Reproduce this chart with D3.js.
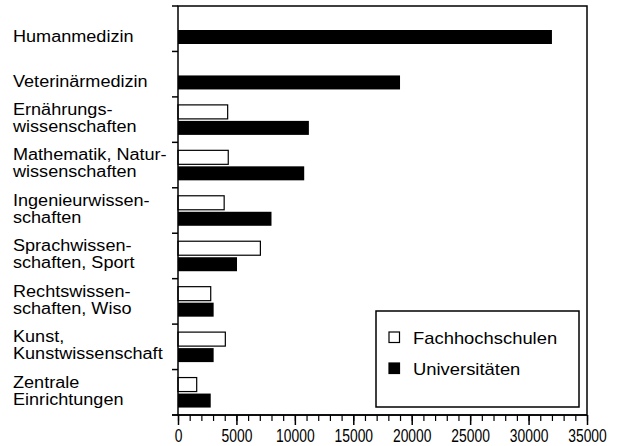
<!DOCTYPE html>
<html>
<head>
<meta charset="utf-8">
<script src="https://cdn.jsdelivr.net/npm/d3@7"></script>
<style>
  body { margin: 0; background: #fff; }
  svg text { font-family: "Liberation Sans", Arial, Helvetica, sans-serif; fill: #000; }
</style>
</head>
<body>
<svg id="chart" width="625" height="446"></svg>
<script>
// Fachbereiche (Zeilen des Labels)
const categories = [
  ["Humanmedizin"],
  ["Veterinärmedizin"],
  ["Ernährungs-", "wissenschaften"],
  ["Mathematik, Natur-", "wissenschaften"],
  ["Ingenieurwissen-", "schaften"],
  ["Sprachwissen-", "schaften, Sport"],
  ["Rechtswissen-", "schaften, Wiso"],
  ["Kunst,", "Kunstwissenschaft"],
  ["Zentrale", "Einrichtungen"]
];
const fachhochschulen = [null, null, 4250, 4300, 3950, 7050, 2800, 4050, 1600];
const universitaeten = [32000, 19000, 11200, 10800, 8000, 5050, 3050, 3050, 2800];
const seriesNames = ["Fachhochschulen", "Universitäten"];
const majorTicks = [0, 5000, 10000, 15000, 20000, 25000, 30000, 35000];
const minorTicks = d3.range(0, 35001, 1000);

const svg = d3.select("#chart");
const plot = { left: 178, right: 587, top: 6, bottom: 415 };

const x = d3.scaleLinear().domain([0, 35000]).range([plot.left, plot.right]);
const y = d3.scaleBand().domain(d3.range(categories.length)).range([plot.top, plot.bottom]);
// Position der beiden Balken innerhalb eines Bandes
const sub = d3.scaleBand().domain([0, 1]).range([8, 38]).paddingInner(0.125);

// Balken
const rows = svg.append("g").selectAll("g")
  .data(categories)
  .join("g")
  .attr("transform", (d, i) => "translate(0," + y(i) + ")");

rows.each(function (d, i) {
  const g = d3.select(this);
  if (fachhochschulen[i] != null) {
    g.append("rect")
      .attr("x", x(0))
      .attr("y", sub(0))
      .attr("width", x(fachhochschulen[i]) - x(0))
      .attr("height", sub.bandwidth())
      .attr("fill", "#fff")
      .attr("stroke", "#000")
      .attr("stroke-width", 1.2);
  }
  g.append("rect")
    .attr("x", x(0))
    .attr("y", sub(1))
    .attr("width", x(universitaeten[i]) - x(0))
    .attr("height", sub.bandwidth())
    .attr("fill", "#000");

  // Kategorie-Beschriftung
  const base = d.length === 1 ? [36] : [18, 35];
  d.forEach((t, k) => {
    g.append("text")
      .attr("transform", "translate(13," + base[k] + ") scale(1.13,1)")
      .attr("font-size", 16)
      .text(t);
  });
});

// Rahmen
svg.append("rect")
  .attr("x", plot.left).attr("y", plot.top)
  .attr("width", plot.right - plot.left).attr("height", plot.bottom - plot.top)
  .attr("fill", "none").attr("stroke", "#000").attr("stroke-width", 1.5);

// linke Teilstriche an den Bandgrenzen
const bounds = d3.range(categories.length + 1).map(i => plot.top + i * y.step());
svg.append("g").selectAll("line")
  .data(bounds)
  .join("line")
  .attr("x1", plot.left - 6).attr("x2", plot.left)
  .attr("y1", d => d).attr("y2", d => d)
  .attr("stroke", "#000").attr("stroke-width", 1.5);

// x-Achse
svg.append("g")
  .attr("transform", "translate(0," + plot.bottom + ")")
  .call(d3.axisBottom(x).tickValues(minorTicks).tickSize(6).tickFormat(""))
  .call(g => g.select(".domain").remove())
  .call(g => g.selectAll("line").attr("stroke", "#000").attr("stroke-width", 1.2));

svg.append("g")
  .attr("transform", "translate(0," + plot.bottom + ")")
  .call(d3.axisBottom(x).tickValues(majorTicks).tickSize(10).tickFormat(d3.format("d")))
  .call(g => g.select(".domain").attr("d", "M" + (plot.left - 6) + ",0H" + plot.right).attr("stroke", "#000").attr("stroke-width", 1.5))
  .call(g => g.selectAll("line").attr("stroke", "#000").attr("stroke-width", 1.5))
  .call(g => g.selectAll("text")
    .attr("y", 27.5).attr("dy", null)
    .attr("font-size", 18.5)
    .attr("font-family", "Liberation Sans, Arial, sans-serif")
    .attr("fill", "#000")
    .attr("transform", "scale(0.75,1)"));

// Legende
const legend = svg.append("g");
legend.append("rect")
  .attr("x", 376).attr("y", 311).attr("width", 203).attr("height", 96)
  .attr("fill", "#fff").attr("stroke", "#000").attr("stroke-width", 1.5);

const items = legend.selectAll("g.item")
  .data(seriesNames)
  .join("g")
  .attr("class", "item")
  .attr("transform", (d, i) => "translate(389," + (i === 0 ? 344 : 375) + ")");

items.append("rect")
  .attr("x", 0).attr("y", -12)
  .attr("width", 10.5).attr("height", 10.5)
  .attr("fill", (d, i) => i === 0 ? "#fff" : "#000")
  .attr("stroke", "#000").attr("stroke-width", 1.2);

items.append("text")
  .attr("transform", "translate(24,0) scale(1.15,1)")
  .attr("font-size", 16)
  .text(d => d);
</script>
</body>
</html>
